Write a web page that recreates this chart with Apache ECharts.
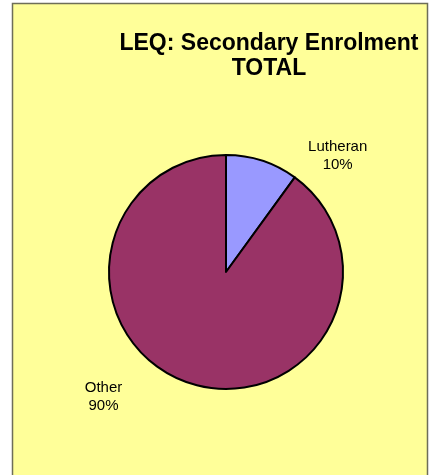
<!DOCTYPE html>
<html>
<head>
<meta charset="utf-8">
<script src="https://cdn.jsdelivr.net/npm/echarts@6/dist/echarts.min.js"></script>
<style>
  html, body { margin: 0; padding: 0; background: #ffffff; }
  #chart { width: 432px; height: 475px; }
</style>
</head>
<body>
<div id="chart"></div>
<script>
// data
const categories = ["Lutheran", "Other"];
const shares = [10, 90];
const sliceColors = ["#9999FF", "#993366"];
// label offsets (length / length2) for each slice
const lineLen = [5, 14];
const lineLen2 = [39, 47];

const chart = echarts.init(document.getElementById("chart"));

const pieData = categories.map((name, i) => ({
  name: name,
  value: shares[i],
  itemStyle: { color: sliceColors[i] },
  labelLine: { show: false, length: lineLen[i], length2: lineLen2[i] },
}));

const option = {
  backgroundColor: "#ffffff",
  animation: false,
  graphic: [
    {
      type: "rect",
      z: -10,
      shape: { x: 12.5, y: 3.5, width: 415, height: 520 },
      style: { fill: "#FFFF99", stroke: "#6e6e58", lineWidth: 1.5 },
    },
  ],
  title: {
    text: "LEQ: Secondary Enrolment\nTOTAL",
    left: 264,
    top: 26,
    textAlign: "center",
    textStyle: {
      fontFamily: "Liberation Sans",
      fontWeight: "bold",
      fontSize: 23,
      lineHeight: 25,
      color: "#000000",
    },
  },
  series: [
    {
      type: "pie",
      center: [226, 272],
      radius: 117,
      startAngle: 90,
      clockwise: true,
      avoidLabelOverlap: false,
      emphasis: { disabled: true },
      itemStyle: { borderColor: "#000000", borderWidth: 2 },
      label: {
        show: true,
        position: "outside",
        formatter: "{t|{b}}\n{t|{d}%}",
        rich: {
          t: {
            width: 60,
            align: "center",
            fontFamily: "Liberation Sans",
            fontSize: 15,
            lineHeight: 18,
            color: "#000000",
          },
        },
      },
      data: pieData,
    },
  ],
};

chart.setOption(option);
</script>
</body>
</html>
